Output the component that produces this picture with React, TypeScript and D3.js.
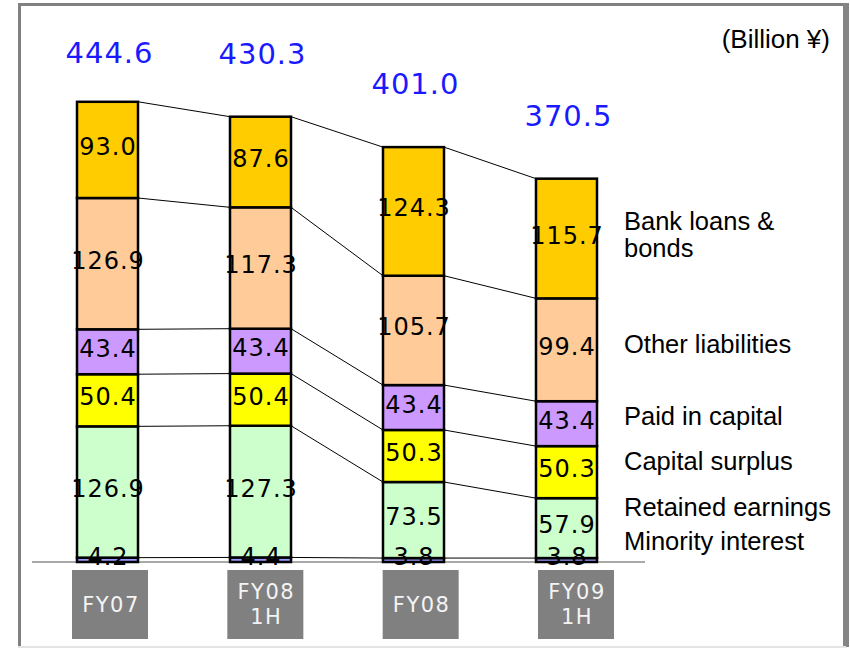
import React from "react";
import * as d3 from "d3";

const categories = ["FY07", "FY08\n1H", "FY08", "FY09\n1H"];
const seriesNames = [
  "Minority interest",
  "Retained earnings",
  "Capital surplus",
  "Paid in capital",
  "Other liabilities",
  "Bank loans &\nbonds",
];
const minority = [4.2, 4.4, 3.8, 3.8];
const retained = [126.9, 127.3, 73.5, 57.9];
const capitalSurplus = [50.4, 50.4, 50.3, 50.3];
const paidIn = [43.4, 43.4, 43.4, 43.4];
const otherLiab = [126.9, 117.3, 105.7, 99.4];
const bankLoans = [93.0, 87.6, 124.3, 115.7];
const totals = [444.6, 430.3, 401.0, 370.5];
const unitLabel = "(Billion ¥)";

const seriesValues = [minority, retained, capitalSurplus, paidIn, otherLiab, bankLoans];
const colors = ["#9999FF", "#CCFFCC", "#FFFF00", "#CC99FF", "#FFCC99", "#FFCC00"];
// legend vertical nudge relative to the last bar's segment centre
const legendNudge = [-19, -21, -11, -8, -6, -4];

const W = 850;
const H = 648;
const baseY = 562;
const topY = 102;

export default function App() {
  const rows = categories.map((c, i) => {
    const r: any = { cat: c };
    seriesNames.forEach((s, j) => (r[s] = seriesValues[j][i]));
    return r;
  });
  const stack = d3.stack().keys(seriesNames)(rows as any);

  const y = d3.scaleLinear().domain([0, totals[0]]).range([baseY, topY]);
  const x = d3
    .scaleBand()
    .domain(categories)
    .range([77, 597])
    .paddingInner(0.6013)
    .paddingOuter(0);
  const xb = d3
    .scaleBand()
    .domain(categories)
    .range([72, 614])
    .paddingInner(0.5107)
    .paddingOuter(0);
  const bw = x.bandwidth();

  const valueFont = "DejaVu Sans, Verdana, sans-serif";
  const legendFont = "Liberation Sans, Arial, Helvetica, sans-serif";

  return (
    <svg
      width={W}
      height={H}
      style={{ position: "absolute", left: 0, top: 0, background: "#fff" }}
    >
      {/* frame */}
      <rect x={0} y={0} width={W} height={H} fill="#fff" />
      <rect x={18} y={3} width={3} height={644} fill="#808080" />
      <rect x={18} y={3} width={828} height={3} fill="#808080" />
      <rect x={843} y={3} width={6} height={644} fill="#858585" />
      <rect x={18} y={646} width={828} height={2} fill="#e4e4e4" />

      {/* connector lines */}
      {stack.map((s, j) =>
        categories.slice(0, -1).map((c, i) => (
          <line
            key={`ln-${j}-${i}`}
            x1={(x(c) as number) + bw}
            y1={y(s[i][1])}
            x2={x(categories[i + 1]) as number}
            y2={y(s[i + 1][1])}
            stroke="#000"
            strokeWidth={1}
          />
        ))
      )}

      {/* axis baseline */}
      <line x1={32} x2={645} y1={baseY} y2={baseY} stroke="#555" strokeWidth={1.2} />

      {/* bars */}
      {stack.map((s, j) =>
        s.map((d, i) => (
          <rect
            key={`b-${j}-${i}`}
            x={x(categories[i]) as number}
            y={y(d[1])}
            width={bw}
            height={y(d[0]) - y(d[1])}
            fill={colors[j]}
            stroke="#000"
            strokeWidth={2.5}
          />
        ))
      )}

      {/* value labels */}
      {stack.map((s, j) =>
        s.map((d, i) => (
          <text
            key={`v-${j}-${i}`}
            x={(x(categories[i]) as number) + bw / 2 + 0.5}
            y={(y(d[0]) + y(d[1])) / 2 - 3}
            textAnchor="middle"
            dominantBaseline="central"
            fontFamily={valueFont}
            fontSize={24}
            letterSpacing={1}
            fill="#000"
          >
            {seriesValues[j][i].toFixed(1)}
          </text>
        ))
      )}

      {/* totals */}
      {totals.map((t, i) => (
        <text
          key={`t-${i}`}
          x={(x(categories[i]) as number) + bw / 2 + 2}
          y={Math.max(53, y(t) - 63)}
          textAnchor="middle"
          dominantBaseline="central"
          fontFamily={valueFont}
          fontSize={29}
          letterSpacing={1}
          fill="#1a1aff"
        >
          {t.toFixed(1)}
        </text>
      ))}

      {/* category boxes */}
      {categories.map((c, i) => {
        const lines = c.split("\n");
        const cx = (xb(c) as number) + xb.bandwidth() / 2;
        const cy = 604.5;
        return (
          <g key={`c-${i}`}>
            <rect
              x={xb(c) as number}
              y={570}
              width={xb.bandwidth()}
              height={69}
              fill="#808080"
            />
            {lines.map((l, k) => (
              <text
                key={k}
                x={cx + 1}
                y={cy + (k - (lines.length - 1) / 2) * 25}
                textAnchor="middle"
                dominantBaseline="central"
                fontFamily={valueFont}
                fontSize={21}
                letterSpacing={1.5}
                fill="#f4f4f4"
              >
                {l}
              </text>
            ))}
          </g>
        );
      })}

      {/* unit label */}
      <text
        x={830}
        y={39}
        textAnchor="end"
        dominantBaseline="central"
        fontFamily={legendFont}
        fontSize={26}
        fill="#000"
      >
        {unitLabel}
      </text>

      {/* legend labels */}
      {stack.map((s, j) => {
        const last = s[s.length - 1];
        const cy = (y(last[0]) + y(last[1])) / 2 + legendNudge[j];
        const lines = seriesNames[j].split("\n");
        return lines.map((l, k) => (
          <text
            key={`lg-${j}-${k}`}
            x={624}
            y={cy + (k - (lines.length - 1) / 2) * 27}
            fontFamily={legendFont}
            fontSize={25.5}
            fill="#000"
            dominantBaseline="central"
          >
            {l}
          </text>
        ));
      })}
    </svg>
  );
}
